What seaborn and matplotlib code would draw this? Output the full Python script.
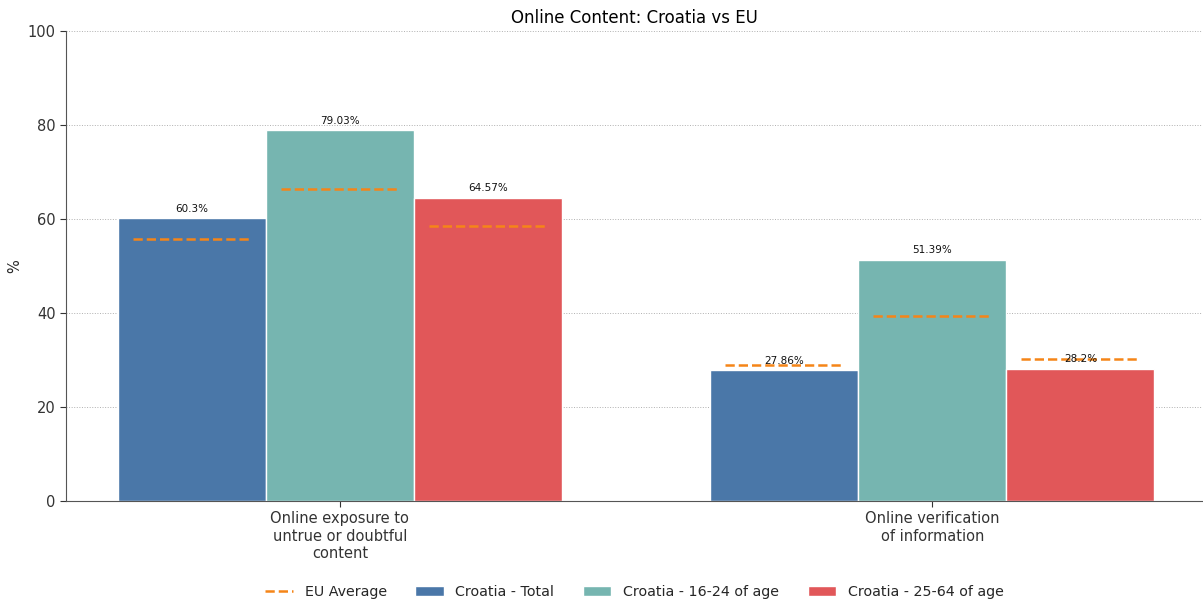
import numpy as np
import pandas as pd
import seaborn as sns
import matplotlib.pyplot as plt
from matplotlib.lines import Line2D
from matplotlib.patches import Patch

categories = ["Online exposure to\nuntrue or doubtful\ncontent",
              "Online verification\nof information"]
groups = ["Croatia - Total", "Croatia - 16-24 of age", "Croatia - 25-64 of age"]
croatia_total = [60.3, 27.86]
croatia_young = [79.03, 51.39]
croatia_adult = [64.57, 28.2]
eu_total = [55.8, 29.0]
eu_young = [66.4, 39.4]
eu_adult = [58.5, 30.3]

colors = ["#4a77a8", "#76b5b0", "#e15759"]
eu_color = "#f58518"

df = pd.DataFrame({
    "category": categories * 3,
    "group": np.repeat(groups, 2),
    "value": croatia_total + croatia_young + croatia_adult,
})
eu_values = [eu_total, eu_young, eu_adult]
cro_values = [croatia_total, croatia_young, croatia_adult]

sns.set_style("white")
plt.rcParams['font.family'] = ['DejaVu Sans']

fig, ax = plt.subplots(figsize=(12.03, 6.0), dpi=100)
fig.subplots_adjust(left=0.055, right=0.999, top=0.948, bottom=0.165)

sns.barplot(data=df, x="category", y="value", hue="group", hue_order=groups,
            palette=colors, width=0.75, saturation=1,
            edgecolor="white", linewidth=1, ax=ax, legend=False)

for j, cont in enumerate(ax.containers):
    for k, bar in enumerate(cont):
        w = bar.get_width()
        x0 = bar.get_x() + 0.1 * w
        ax.hlines(eu_values[j][k], x0, x0 + 0.8 * w, colors=eu_color,
                  linestyles="--", linewidth=1.8, zorder=3)
    ax.bar_label(cont, labels=[f"{v}%" for v in cro_values[j]],
                 padding=3, fontsize=7.5, color="#111111")

ax.set_ylim(0, 100)
ax.set_xlim(-0.462, 1.455)
ax.set_title("Online Content: Croatia vs EU", fontsize=12, color="black")
ax.set_ylabel("%", fontsize=10.5)
ax.set_xlabel("")
ax.tick_params(axis="both", labelsize=10.5, colors="#333333", length=4,
               bottom=True, left=True)
ax.yaxis.grid(True, linestyle=":", color="#b0b0b0", linewidth=0.7)
ax.set_axisbelow(True)
for s in ["top", "right"]:
    ax.spines[s].set_visible(False)
for s in ["left", "bottom"]:
    ax.spines[s].set_color("#555555")

handles = [Line2D([0], [0], color=eu_color, linestyle="--", linewidth=1.8)]
handles += [Patch(facecolor=c) for c in colors]
ax.legend(handles, ["EU Average"] + groups, loc="upper center",
          bbox_to_anchor=(0.5, -0.152), ncol=4, frameon=False, fontsize=10.3)

fig.savefig("out.png", dpi=100)
